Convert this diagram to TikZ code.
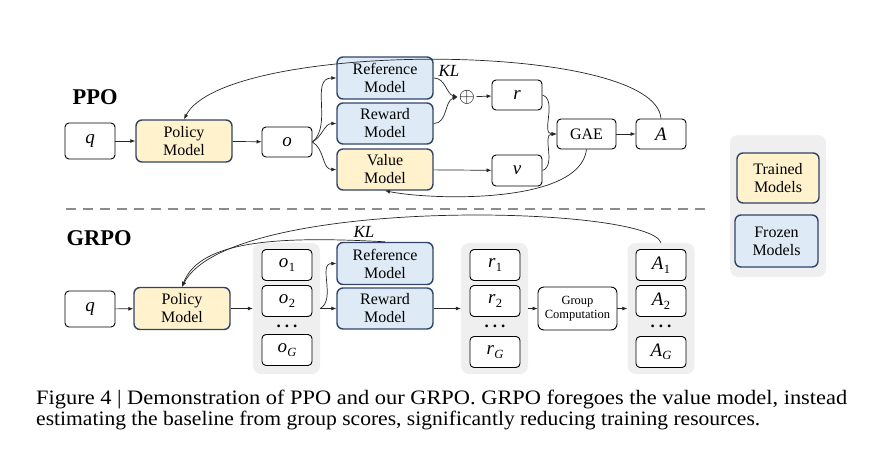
\documentclass[tikz,border=0pt]{standalone}
\usepackage{fontspec}
\setmainfont{Liberation Serif}
\usetikzlibrary{arrows.meta}
\definecolor{navy}{HTML}{2F4468}
\definecolor{trainedfill}{HTML}{FFF2CC}
\definecolor{frozenfill}{HTML}{DEEBF7}
\definecolor{grpgray}{HTML}{EFEFEF}
\definecolor{arrowc}{HTML}{262626}
\definecolor{dashc}{HTML}{8C8C8C}
\newcommand\mv[1]{\textit{#1}}
\newcommand\mvs[2]{\textit{#1}\kern0.3pt\raisebox{-3.5pt}{\fontsize{12.5}{12.5}\selectfont #2}}
\begin{document}
\begin{tikzpicture}[x=1pt,y=-1pt,
  box/.style={draw=black, line width=0.9pt, rounded corners=4pt, fill=white, font=\fontsize{19}{21}\selectfont, inner sep=0pt},
  sbox/.style={box, minimum width=50pt, minimum height=31pt},
  qbox/.style={box, minimum width=50pt, minimum height=36pt},
  model/.style={draw=navy, line width=1.4pt, rounded corners=6pt, minimum width=96pt, minimum height=42pt, align=center, inner sep=0pt, font=\fontsize{16}{18}\selectfont},
  trained/.style={model, fill=trainedfill},
  frozen/.style={model, fill=frozenfill},
  grp/.style={fill=grpgray, rounded corners=8pt, inner sep=0pt, minimum width=67pt, minimum height=131pt},
  arr/.style={-{Latex[length=5pt,width=4pt]}, line width=0.7pt, draw=arrowc},
  title/.style={font=\fontsize{22.5}{24}\selectfont\bfseries},
  lbl/.style={font=\fontsize{17}{18}\selectfont, inner sep=0pt},
  dots/.style={font=\fontsize{17}{19}\selectfont\bfseries, inner sep=0pt},
  sep/.style={draw=dashc, line width=2.6pt, dash pattern=on 10pt off 7pt},
  captext/.style={anchor=base west, inner sep=0pt, font=\fontsize{20.5}{23}\selectfont}
]
\useasboundingbox (0,0) rectangle (874,455);

% ---------------- PPO ----------------
\node[title] (ppo) at (95,97) {PPO};
\node[qbox] (q1) at (90,141) {\mv{q}};
\node[trained] (pol1) at (184,141) {Policy\\Model};
\node[sbox, minimum height=30pt] (o1) at (287,142) {\mv{o}};
\node[frozen] (ref1) at (385,78) {Reference\\Model};
\node[frozen, minimum height=41pt] (rew1) at (385,123.5) {Reward\\Model};
\node[trained, minimum height=41pt] (val1) at (385,169.5) {Value\\Model};
\node[font=\fontsize{20}{20}\selectfont, inner sep=1pt] (plus) at (467,97) {$\oplus$};
\node[lbl] (kl1) at (449,71) {\mv{KL}};
\node[sbox, minimum height=30pt] (r1) at (517,95) {\mv{r}};
\node[sbox] (v1) at (517,170.5) {\mv{v}};
\node[box, minimum width=59pt, minimum height=30pt, font=\fontsize{16}{18}\selectfont] (gae) at (586.5,134) {GAE};
\node[sbox, minimum height=30pt] (a1) at (661,134) {\mv{A}};

\draw[arr] (q1) -- (pol1);
\draw[arr] (pol1) -- (o1);
\draw[arr] (o1.east) to[out=40,in=180] (ref1.west);
\draw[arr] (o1.east) to[out=30,in=180] (rew1.west);
\draw[arr] (o1.east) to[out=-30,in=180] (val1.west);
\draw[arr] (ref1.east) to[out=0,in=165] (plus.west);
\draw[arr] (rew1.east) to[out=0,in=195] (plus.west);
\draw[arr] (plus) -- (r1);
\draw[arr] (val1) -- (v1);
\draw[arr] (r1.east) to[out=-20,in=180] (gae.west);
\draw[arr] (v1.east) to[out=20,in=180] (gae.west);
\draw[arr] (gae) -- (a1);
\draw[arr] (a1.north) .. controls (655,40) and (225,40) .. (pol1.north);
\draw[arr] (gae.south) .. controls (580,205) and (430,200) .. (val1.south);

% ---------------- separator ----------------
\coordinate (sl) at (66,209);
\coordinate (sr) at (708,209);
\draw[sep] (sl) -- (sr);

% ---------------- GRPO ----------------
\node[title] (grpo) at (99,238) {GRPO};
\node[qbox] (q2) at (90,309) {\mv{q}};
\node[trained] (pol2) at (182,308.5) {Policy\\Model};

\node[grp] (og) at (286.5,308.5) {};
\node[sbox] (o21) at (287,265) {\mvs{o}{1}};
\node[sbox] (o22) at (287,301) {\mvs{o}{2}};
\node[dots] (od) at (287,326) {.\hspace{4pt}.\hspace{4pt}.};
\node[sbox] (o2g) at (287,350) {\mvs{o}{\textit{G}}};

\node[frozen] (ref2) at (385,263.5) {Reference\\Model};
\node[frozen, minimum height=41pt] (rew2) at (385,308.5) {Reward\\Model};
\node[lbl] (kl2) at (364,232) {\mv{KL}};

\node[grp] (rg) at (494.5,308.5) {};
\node[sbox] (r21) at (495,265) {\mvs{r}{1}};
\node[sbox] (r22) at (495,301) {\mvs{r}{2}};
\node[dots] (rd) at (495,326) {.\hspace{4pt}.\hspace{4pt}.};
\node[sbox] (r2g) at (495,352) {\mvs{r}{\textit{G}}};

\node[box, minimum width=79pt, minimum height=43pt, align=center, font=\fontsize{12.5}{14}\selectfont, rounded corners=6pt] (gc) at (577.5,308.5) {Group\\Computation};

\node[grp] (ag) at (661,308.5) {};
\node[sbox] (a21) at (661,265) {\mvs{A}{1}};
\node[sbox] (a22) at (661,301) {\mvs{A}{2}};
\node[dots] (ad) at (661,326) {.\hspace{4pt}.\hspace{4pt}.};
\node[sbox] (a2g) at (661,352) {\mvs{A}{\textit{G}}};

\draw[arr] (q2) -- (pol2);
\draw[arr] (pol2) -- (og);
\draw[arr] (og.east) to[out=30,in=180] (ref2.west);
\draw[arr] (og.east) -- (rew2.west);
\draw[arr] (rew2) -- (rg);
\draw[arr] (rg) -- (gc);
\draw[arr] (gc) -- (ag);
\draw[arr] (ag.north) .. controls (650,205) and (230,195) .. (pol2.north);
\draw[arr] (ref2.north) .. controls (280,236) and (200,240) .. (pol2.north);

% ---------------- legend ----------------
\node[grp, minimum width=96pt, minimum height=142pt] (leg) at (778,206) {};
\node[trained, minimum width=82pt, minimum height=50pt] (tr) at (778,178) {Trained\\Models};
\node[frozen, minimum width=83pt, minimum height=52pt] (fr) at (776.5,241) {Frozen\\Models};

% ---------------- caption ----------------
\node[captext] (cap1) at (36,404) {\scalebox{1.093}[1]{Figure 4 | Demonstration of PPO and our GRPO. GRPO foregoes the value model, instead}};
\node[captext] (cap2) at (36,425) {\scalebox{1.052}[1]{estimating the baseline from group scores, significantly reducing training resources.}};
\end{tikzpicture}
\end{document}
